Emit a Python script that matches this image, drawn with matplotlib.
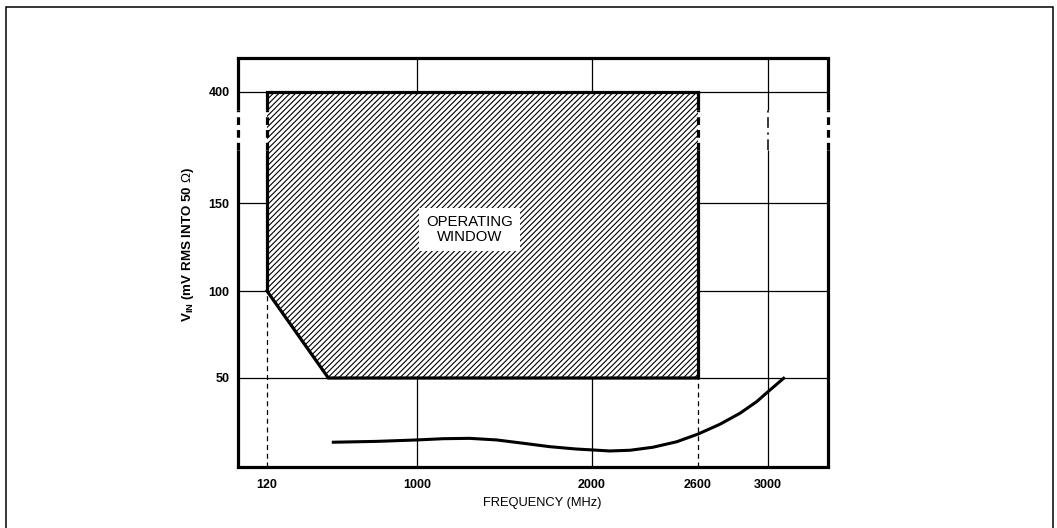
import numpy as np
import matplotlib
matplotlib.use("Agg")
import matplotlib.pyplot as plt
from matplotlib.patches import Polygon, Rectangle

plt.rcParams['font.family'] = ['Liberation Sans', 'DejaVu Sans']
plt.rcParams['mathtext.fontset'] = 'custom'
plt.rcParams['mathtext.rm'] = 'Liberation Sans'
plt.rcParams['mathtext.bf'] = 'Liberation Sans:bold'
plt.rcParams['hatch.linewidth'] = 0.8

# axis ticks
freq_ticks = [120, 1000, 2000, 2600, 3000]
vin_ticks = [50, 100, 150, 400]

# operating window outline (MHz, mV)
window_freq = [120, 2600, 2600, 480, 120]
window_vin = [400, 400, 50, 50, 100]

# minimum input sensitivity curve (MHz, mV)
curve_freq = [500, 765, 1000, 1150, 1300, 1455, 1610, 1760, 1910, 2000, 2100,
              2215, 2345, 2480, 2600, 2725, 2840, 2935, 3000, 3095]
curve_vin = [13.9, 14.4, 15.2, 15.9, 16.1, 15.2, 13.3, 11.4, 10.1, 9.6, 9.0,
             9.4, 11.1, 14.2, 18.5, 24.0, 30.2, 36.7, 42.3, 50.4]

# the drawing is not to scale: anchor values and their relative positions
x_anchor_val = [-50, 120, 1000, 2000, 2600, 3000, 3340]
x_anchor_pos = [0, 29, 179, 354, 460, 530, 590]
y_anchor_val = [0, 50, 100, 150, 400, 480]
y_anchor_pos = [0, 89, 176, 264, 375, 409]

# axis break band (mV)
brk = (270, 360)


def piecewise_scale(vals, pos):
    vals = np.asarray(vals, float)
    pos = np.asarray(pos, float)
    s0 = (pos[1] - pos[0]) / (vals[1] - vals[0])
    s1 = (pos[-1] - pos[-2]) / (vals[-1] - vals[-2])
    big = 1e6
    v = np.concatenate([[vals[0] - big], vals, [vals[-1] + big]])
    p = np.concatenate([[pos[0] - big * s0], pos, [pos[-1] + big * s1]])

    def fwd(a):
        return np.interp(a, v, p)

    def inv(a):
        return np.interp(a, p, v)
    return fwd, inv


fig = plt.figure(figsize=(10.57, 5.28), dpi=100)
ax = fig.add_axes([238 / 1057, 1 - 467 / 528, 590 / 1057, 409 / 528])

ax.set_xscale('function', functions=piecewise_scale(x_anchor_val, x_anchor_pos))
ax.set_yscale('function', functions=piecewise_scale(y_anchor_val, y_anchor_pos))
xmin, xmax = x_anchor_val[0], x_anchor_val[-1]
ymin, ymax = y_anchor_val[0], y_anchor_val[-1]
ax.set_xlim(xmin, xmax)
ax.set_ylim(ymin, ymax)

thin = 0.9
thick = 2.3
dash_thick = (0, (2.4, 1.6))
dash_thin = (0, (4, 3))

# grid lines (behind the window)
for v in vin_ticks:
    ax.plot([xmin, xmax], [v, v], color='black', lw=thin, zorder=1)
for f in [1000, 2000]:
    ax.plot([f, f], [ymin, ymax], color='black', lw=thin, zorder=1)
ax.plot([3000, 3000], [ymin, brk[0]], color='black', lw=thin, zorder=1,
        solid_capstyle='butt')
ax.plot([3000, 3000], [brk[1], ymax], color='black', lw=thin, zorder=1,
        solid_capstyle='butt')
ax.plot([3000, 3000], list(brk), color='black', lw=1.1, zorder=1,
        linestyle=(0, (7, 3, 1.5, 3)))

# dashed guides below the window
ax.plot([120, 120], [ymin, window_vin[-1]], color='black', lw=thin,
        linestyle=dash_thin, zorder=1)
ax.plot([2600, 2600], [ymin, window_vin[2]], color='black', lw=thin,
        linestyle=dash_thin, zorder=1)

# hatched operating window
win = Polygon(np.column_stack([window_freq, window_vin]), closed=True,
              facecolor='white', edgecolor='black', hatch='//////', lw=0, zorder=2)
ax.add_patch(win)


def broken_vline(x, y0, y1, lw, z=3):
    ax.plot([x, x], [y0, brk[0]], color='black', lw=lw, zorder=z,
            solid_capstyle='butt', clip_on=False)
    ax.plot([x, x], list(brk), color='black', lw=lw, zorder=z,
            linestyle=dash_thick, clip_on=False)
    ax.plot([x, x], [brk[1], y1], color='black', lw=lw, zorder=z,
            solid_capstyle='butt', clip_on=False)


# window outline
ax.plot([window_freq[0], window_freq[1]], [window_vin[0], window_vin[1]],
        color='black', lw=thick, zorder=3, solid_capstyle='projecting')
ax.plot(window_freq[2:], window_vin[2:], color='black', lw=thick, zorder=3,
        solid_joinstyle='miter')
broken_vline(window_freq[0], window_vin[-1], window_vin[0], thick)
broken_vline(window_freq[1], window_vin[2], window_vin[1], thick)

# frame: left and right sides carry the axis break
for s in ['left', 'right']:
    ax.spines[s].set_visible(False)
for s in ['top', 'bottom']:
    ax.spines[s].set_linewidth(thick)
broken_vline(xmin, ymin, ymax, thick, z=5)
broken_vline(xmax, ymin, ymax, thick, z=5)

# sensitivity curve
ax.plot(curve_freq, curve_vin, color='black', lw=2.2, zorder=4,
        solid_capstyle='butt', solid_joinstyle='round')

ax.text(1300, 135, 'OPERATING\nWINDOW', ha='center', va='center',
        fontsize=10.7, linespacing=1.05, zorder=6,
        bbox=dict(facecolor='white', edgecolor='none', pad=5))

ax.set_xticks(freq_ticks)
ax.set_xticklabels([str(f) for f in freq_ticks])
ax.set_yticks(vin_ticks)
ax.set_yticklabels([str(v) for v in vin_ticks])
ax.minorticks_off()
ax.tick_params(length=0, labelsize=9)
ax.tick_params(axis='x', pad=9)
ax.tick_params(axis='y', pad=6)
for lab in ax.get_xticklabels() + ax.get_yticklabels():
    lab.set_fontweight('bold')

ax.text(0.515, -0.088, 'FREQUENCY (MHz)', transform=ax.transAxes,
        ha='center', va='center', fontsize=9.3)
ax.text(-0.085, 0.543, r'V$_{\mathbf{IN}}$ (mV RMS INTO 50 $\Omega$)',
        transform=ax.transAxes, rotation=90, ha='center', va='center',
        fontsize=9.6, fontweight='bold')

# outer drawing border
fig.patches.append(Rectangle((6 / 1057, -0.05), 1047 / 1057, 1.05 - 7 / 528,
                             transform=fig.transFigure, fill=False,
                             edgecolor='black', lw=1.1))

fig.savefig('out.png', dpi=100)
